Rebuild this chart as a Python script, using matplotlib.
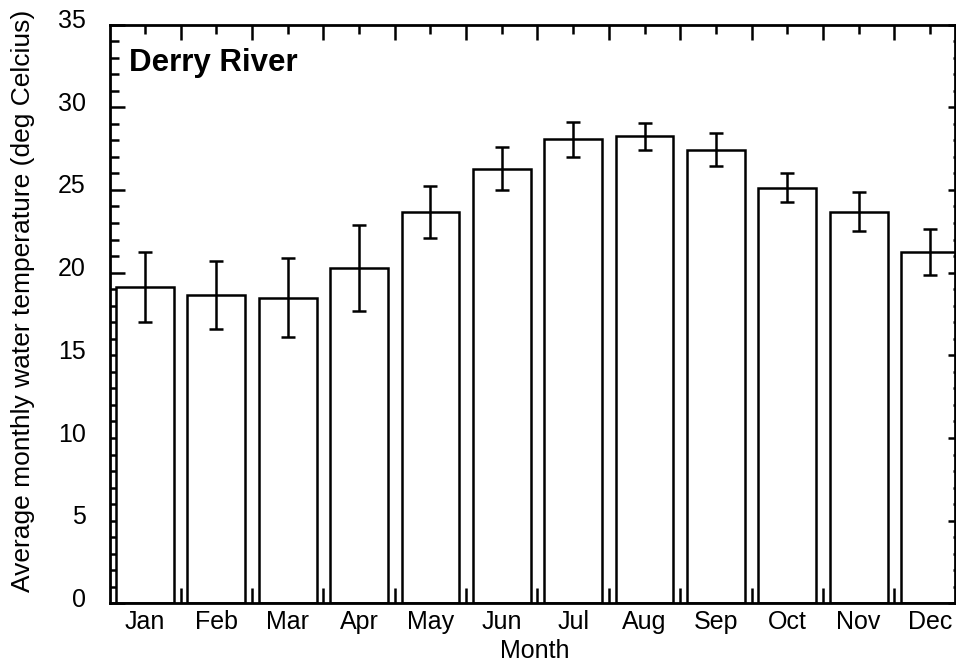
import matplotlib
matplotlib.use("Agg")
import matplotlib.pyplot as plt
import matplotlib.transforms as mtransforms
import numpy as np

months = ["Jan", "Feb", "Mar", "Apr", "May", "Jun", "Jul", "Aug", "Sep", "Oct", "Nov", "Dec"]
mean_temp = [19.13, 18.65, 18.49, 20.28, 23.67, 26.28, 28.05, 28.23, 27.43, 25.13, 23.69, 21.25]
err_temp = [2.12, 2.05, 2.4, 2.6, 1.55, 1.3, 1.05, 0.82, 1.0, 0.88, 1.16, 1.4]
yticks = [0, 5, 10, 15, 20, 25, 30, 35]

plt.rcParams['font.family'] = ['Liberation Sans', 'DejaVu Sans']

W, H = 956, 663
fig = plt.figure(figsize=(W / 100, H / 100), dpi=100)
ax = fig.add_axes([110 / W, (H - 603.4) / H, (955 - 110) / W, (603.4 - 24.5) / H])

x = np.arange(1, len(months) + 1)
ax.bar(x, mean_temp, width=0.81, color='white', edgecolor='black', linewidth=1.8, zorder=2)
ax.errorbar(x, mean_temp, yerr=err_temp, fmt='none', ecolor='black', elinewidth=1.8,
            capsize=4.7, capthick=1.8, zorder=3)

ax.set_xlim(0.51, 12.35)
ax.set_ylim(0, 35)
ax.set_yticks(yticks)
ax.set_yticks(np.arange(0, 36, 1), minor=True)
ax.set_xticks(x)
ax.set_xticklabels(months)
ax.set_xticks(np.arange(1.5, 12.5, 1), minor=True)

for s in ax.spines.values():
    s.set_linewidth(2.0)

ax.tick_params(axis='y', which='major', direction='in', length=10.8, width=1.8,
               left=True, right=False, labelsize=18, pad=17.5)
ax.tick_params(axis='y', which='minor', direction='in', length=6.5, width=1.8,
               left=True, right=False)
ax.tick_params(axis='x', which='major', direction='in', length=6.5, width=1.8,
               top=True, bottom=True, labelsize=18, pad=5)
ax.tick_params(axis='x', which='minor', direction='in', length=10.5, width=1.8,
               top=True, bottom=True)

shift = mtransforms.ScaledTranslation(0, 6 / 100, fig.dpi_scale_trans)
for lab in ax.get_yticklabels():
    lab.set_transform(lab.get_transform() + shift)

# right-side ticks (short)
axr = ax.twinx()
axr.set_ylim(0, 35)
axr.set_yticks(yticks)
axr.set_yticks(np.arange(0, 36, 1), minor=True)
axr.tick_params(axis='y', which='major', direction='in', length=5, width=1.8, labelright=False)
axr.tick_params(axis='y', which='minor', direction='in', length=1.5, width=1.8)
for s in axr.spines.values():
    s.set_visible(False)

ax.text(129 / W, 1 - 71 / H, "Derry River", transform=fig.transFigure, fontsize=22.5,
        fontweight='bold', ha='left', va='baseline')

fig.text(535 / W, 1 - 658 / H, "Month", fontsize=18, ha='center', va='baseline')
fig.text(23 / W, 1 - 301 / H, "Average monthly water temperature (deg Celcius)", fontsize=19,
         rotation=90, ha='center', va='center')

fig.savefig("out.png", dpi=100, facecolor='white')
